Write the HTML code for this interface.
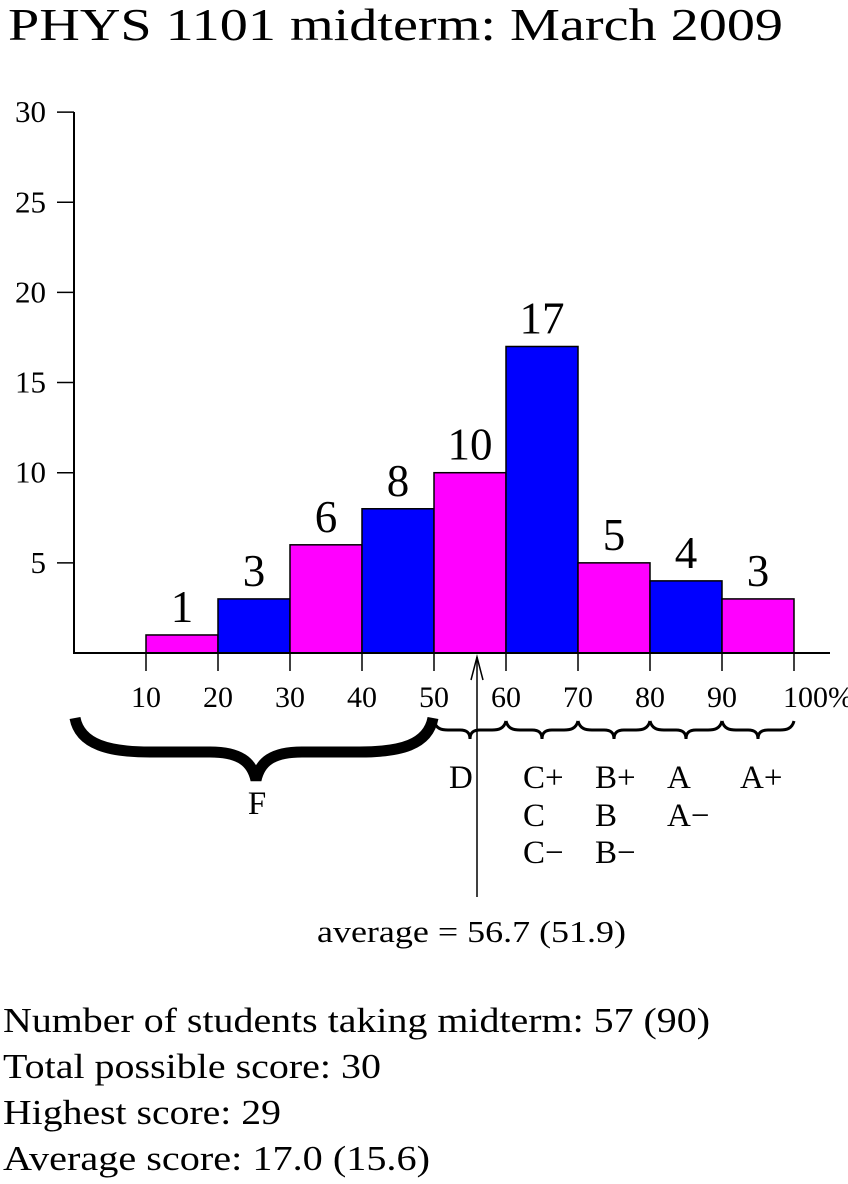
<!DOCTYPE html>
<html><head><meta charset="utf-8"><style>
body{margin:0;background:#fff;width:848px;height:1184px;overflow:hidden;font-family:"Liberation Serif",serif}
svg{position:absolute;left:0;top:0}
</style></head><body>
<svg width="848" height="1184" id="c" font-family="Liberation Serif, serif">
<text x="8" y="40" font-size="46" textLength="775" lengthAdjust="spacingAndGlyphs">PHYS 1101 midterm: March 2009</text>
<g id="bars"></g>
<line x1="74" y1="112" x2="74" y2="654" stroke="#000" stroke-width="2"/>
<line x1="73" y1="653" x2="830" y2="653" stroke="#000" stroke-width="2"/>
<g id="ticks"></g>
<path d="M75,718 C80,745 110,752 150,752 L210,752 C240,752 252,762 256,780 C260,762 272,752 302,752 L360,752 C400,752 428,745 433,718" fill="none" stroke="#000" stroke-width="11"/>
<g id="braces" fill="none" stroke="#000" stroke-width="3"></g>
<g font-size="33">
<text x="257" y="814" text-anchor="middle">F</text>
<text x="449" y="788">D</text>
<text x="523" y="788">C+</text><text x="523" y="826">C</text><text x="523" y="863">C−</text>
<text x="595" y="788">B+</text><text x="595" y="826">B</text><text x="595" y="863">B−</text>
<text x="667" y="788">A</text><text x="667" y="826">A−</text>
<text x="740" y="788">A+</text>
</g>
<line x1="477" y1="897" x2="477" y2="657" stroke="#000" stroke-width="1.5"/>
<path d="M471,680 L477,657 L483,680" fill="none" stroke="#000" stroke-width="1.5"/>
<text x="317" y="942" font-size="31" textLength="309" lengthAdjust="spacingAndGlyphs">average = 56.7 (51.9)</text>
<g font-size="35">
<text x="3" y="1032" textLength="707" lengthAdjust="spacingAndGlyphs">Number of students taking midterm: 57 (90)</text>
<text x="3" y="1078" textLength="378" lengthAdjust="spacingAndGlyphs">Total possible score: 30</text>
<text x="3" y="1124" textLength="278" lengthAdjust="spacingAndGlyphs">Highest score: 29</text>
<text x="3" y="1170" textLength="427" lengthAdjust="spacingAndGlyphs">Average score: 17.0 (15.6)</text>
</g>
</svg>
<script>
const binStarts=[10,20,30,40,50,60,70,80,90];
const counts=[1,3,6,8,10,17,5,4,3];
const yTicks=[5,10,15,20,25,30];
const xTicks=[10,20,30,40,50,60,70,80,90,100];
const braceEdges=[50,60,70,80,90,100];
const NS="http://www.w3.org/2000/svg";
const X=v=>74+v*7.2, Y=v=>653-v*18.03;
const bars=document.getElementById('bars');
binStarts.forEach((b,i)=>{
 const r=document.createElementNS(NS,'rect');
 r.setAttribute('x',X(b));r.setAttribute('width',X(b+10)-X(b));
 r.setAttribute('y',Y(counts[i]));r.setAttribute('height',Y(0)-Y(counts[i]));
 r.setAttribute('fill',i%2?'#0000ff':'#ff00ff');r.setAttribute('stroke','#000');r.setAttribute('stroke-width','1.5');
 
 
 bars.appendChild(r);
 const t=document.createElementNS(NS,'text');
 t.setAttribute('x',X(b+5));t.setAttribute('y',Y(counts[i])-13);t.setAttribute('font-size','45');t.setAttribute('text-anchor','middle');
 t.textContent=counts[i];
 
 
 bars.appendChild(t);
});
const tk=document.getElementById('ticks');
yTicks.forEach(v=>{
 const l=document.createElementNS(NS,'line');
 l.setAttribute('x1',57);l.setAttribute('x2',74);l.setAttribute('y1',Y(v));l.setAttribute('y2',Y(v));l.setAttribute('stroke','#000');l.setAttribute('stroke-width','1.5');
 
 
 tk.appendChild(l);
 const t=document.createElementNS(NS,'text');
 t.setAttribute('x',46);t.setAttribute('y',Y(v)+10);t.setAttribute('font-size','31');t.setAttribute('text-anchor','end');
 t.textContent=v;
 
 
 tk.appendChild(t);
});
xTicks.forEach(v=>{
 const l=document.createElementNS(NS,'line');
 l.setAttribute('x1',X(v));l.setAttribute('x2',X(v));l.setAttribute('y1',653);l.setAttribute('y2',671);l.setAttribute('stroke','#000');l.setAttribute('stroke-width','1.5');
 
 
 tk.appendChild(l);
 const t=document.createElementNS(NS,'text');
 t.setAttribute('x',X(v));t.setAttribute('y',707);t.setAttribute('font-size','30');t.setAttribute('text-anchor','middle');
 t.textContent=v===100?'100%':v;
 if(v===100)t.setAttribute('x',X(v)+24);
 
 
 tk.appendChild(t);
});
const br=document.getElementById('braces');
for(let i=0;i<braceEdges.length-1;i++){
 const a=X(braceEdges[i]),b=X(braceEdges[i+1]),m=(a+b)/2;
 const p=document.createElementNS(NS,'path');
 p.setAttribute('d',`M${a},721 C${a+2},729 ${a+8},730 ${a+14},730 L${m-10},730 C${m-3},730 ${m},733 ${m},739 C${m},733 ${m+3},730 ${m+10},730 L${b-14},730 C${b-8},730 ${b-2},729 ${b},721`);
 
 
 br.appendChild(p);
}
</script>
</body></html>
